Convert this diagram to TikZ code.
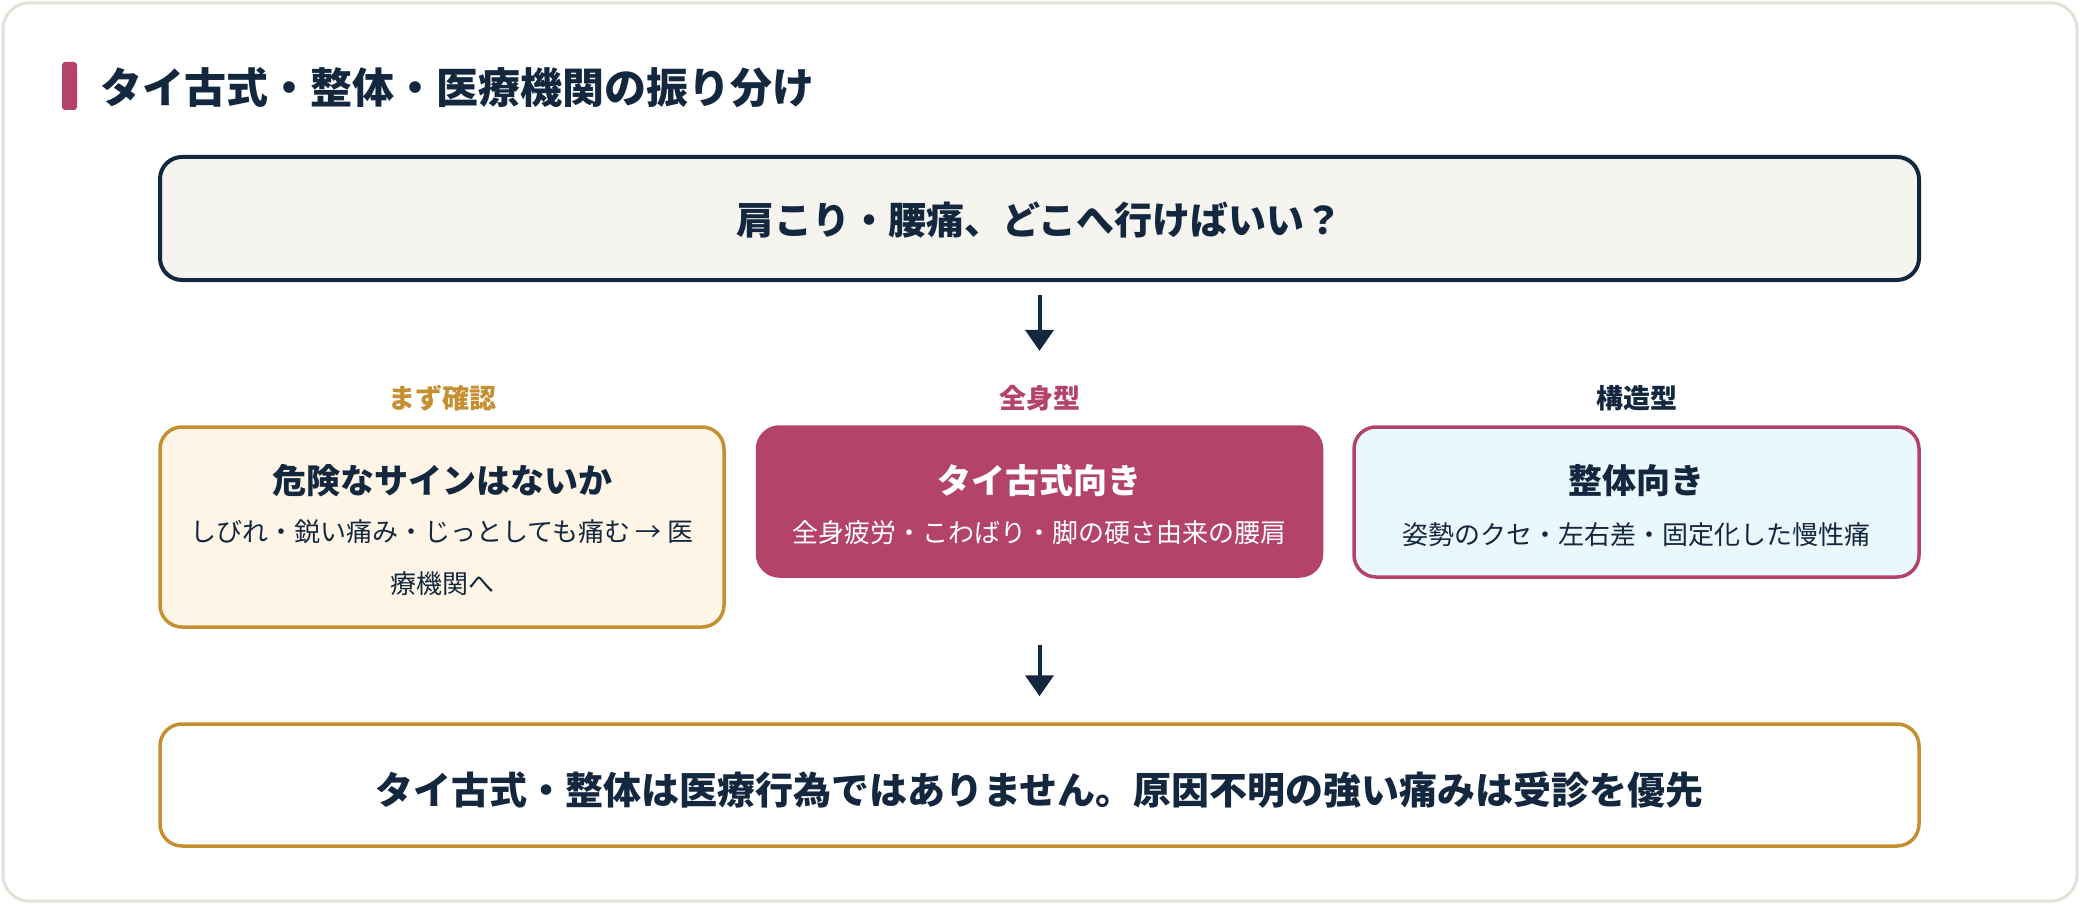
\documentclass[tikz,border=0pt]{standalone}
\usepackage{fontspec}
\setmainfont{Noto Sans CJK JP}
\usetikzlibrary{arrows.meta}
\definecolor{navy}{HTML}{13283F}
\definecolor{gold}{HTML}{C69032}
\definecolor{rose}{HTML}{B3436B}
\definecolor{frameline}{HTML}{E4E2D8}
\definecolor{topfill}{HTML}{F5F4EF}
\definecolor{creamfill}{HTML}{FEF5E6}
\definecolor{bluefill}{HTML}{EAF8FE}
\tikzset{
  panel/.style={rounded corners=22pt, line width=3.5pt, inner sep=0pt},
  txt/.style={inner sep=0pt, anchor=center, text=navy},
  flow/.style={draw=navy, line width=4pt, -{Triangle[length=21pt,width=28pt]}}
}
\begin{document}
\begin{tikzpicture}[x=1pt,y=-1pt]
\useasboundingbox (0,0) rectangle (2080,904);
\fill[white] (0,0) rectangle (2080,904);
\draw[frameline, line width=3pt, rounded corners=26pt, fill=white] (3,3) rectangle (2077,901);
% title
\fill[rose, rounded corners=3pt] (62,62) rectangle (77,110);
\node[txt, anchor=west, font=\fontsize{42}{48}\selectfont\bfseries] (title) at (100,88) {タイ古式・整体・医療機関の振り分け};
% top question
\node[panel, draw=navy, fill=topfill, line width=4pt, minimum width=1759pt, minimum height=123pt] (top) at (1039.5,218.5) {};
\node[txt, font=\fontsize{38}{44}\selectfont\bfseries] (toptext) at (1039.5,220) {肩こり・腰痛、どこへ行けばいい？};
% labels
\node[txt, text=gold, font=\fontsize{27}{30}\selectfont\bfseries] (lab1) at (442,398) {まず確認};
\node[txt, text=rose, font=\fontsize{27}{30}\selectfont\bfseries] (lab2) at (1039.5,398) {全身型};
\node[txt, text=navy, font=\fontsize{27}{30}\selectfont\bfseries] (lab3) at (1636.5,398) {構造型};
% three boxes
\node[panel, draw=gold, fill=creamfill, minimum width=564pt, minimum height=200pt] (left) at (442,527) {};
\node[panel, draw=rose, fill=rose, minimum width=564pt, minimum height=149pt] (mid) at (1039.5,501.5) {};
\node[panel, draw=rose, fill=bluefill, minimum width=565pt, minimum height=150pt] (right) at (1636.5,502) {};
\node[txt, font=\fontsize{34}{40}\selectfont\bfseries] (lefttitle) at (442,481) {危険なサインはないか};
\node[txt, font=\fontsize{26}{52}\selectfont, align=center] (leftsub) at (442,558) {しびれ・鋭い痛み・じっとしても痛む → 医\\療機関へ};
\node[txt, text=white, font=\fontsize{34}{40}\selectfont\bfseries] (midtitle) at (1039.5,481) {タイ古式向き};
\node[txt, text=white, font=\fontsize{26}{30}\selectfont] (midsub) at (1039.5,533) {全身疲労・こわばり・脚の硬さ由来の腰肩};
\node[txt, font=\fontsize{34}{40}\selectfont\bfseries] (righttitle) at (1636.5,481) {整体向き};
\node[txt, font=\fontsize{26}{30}\selectfont] (rightsub) at (1636.5,535) {姿勢のクセ・左右差・固定化した慢性痛};
% bottom
\node[panel, draw=gold, fill=white, minimum width=1759pt, minimum height=122pt] (bottom) at (1039.5,785) {};
\node[txt, font=\fontsize{38}{44}\selectfont\bfseries] (bottomtext) at (1039.5,790) {タイ古式・整体は医療行為ではありません。原因不明の強い痛みは受診を優先};
% arrows
\draw[flow, shorten <=13pt, shorten >=34pt] (top.south) -- (lab2.north);
\draw[flow, shorten <=67pt, shorten >=26pt] (mid.south) -- (bottom.north);
\end{tikzpicture}
\end{document}
